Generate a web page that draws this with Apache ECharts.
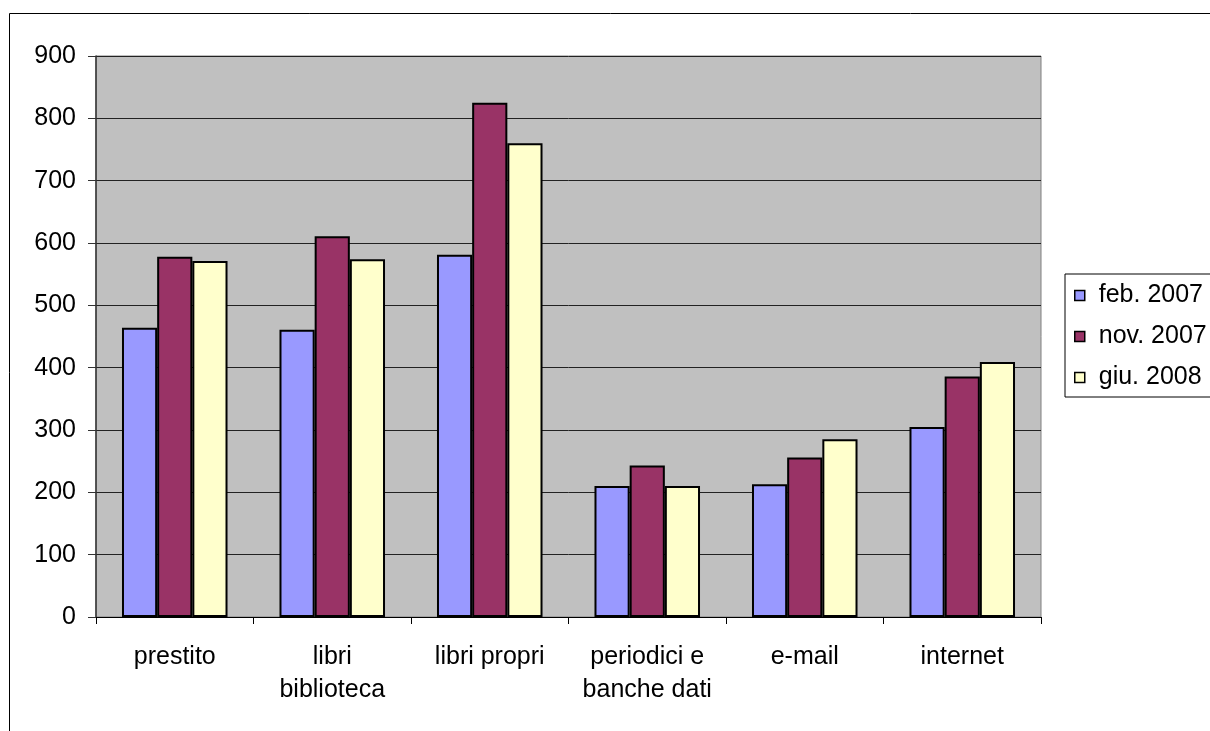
<!DOCTYPE html>
<html>
<head>
    <meta charset="utf-8">
    <title>grafico</title>
    <script src="https://cdn.jsdelivr.net/npm/echarts@6/dist/echarts.min.js"></script>
    <style>
        html, body { margin: 0; padding: 0; background: #ffffff; }
        #chart { width: 1210px; height: 731px; }
    </style>
</head>
<body>
<div id="chart"></div>
<script>
var categorie = ['prestito', 'libri\nbiblioteca', 'libri propri', 'periodici e\nbanche dati', 'e-mail', 'internet'];
var feb2007 = [464, 461, 581, 210, 213, 305];
var nov2007 = [578, 611, 825, 243, 256, 386];
var giu2008 = [571, 574, 760, 210, 285, 409];
var yTicks = [0, 100, 200, 300, 400, 500, 600, 700, 800, 900];

var font = 'Liberation Sans, Arial, sans-serif';
var chart = echarts.init(document.getElementById('chart'));

function serie(nome, dati, colore) {
    return {
        name: nome,
        type: 'bar',
        data: dati,
        barGap: '0%',
        barCategoryGap: '33%',
        itemStyle: { color: colore, borderColor: '#000000', borderWidth: 2 }
    };
}

var option = {
    animation: false,
    textStyle: { fontFamily: font },
    graphic: [{
        type: 'rect',
        shape: { x: 9.5, y: 13.5, width: 1400, height: 900 },
        style: { fill: 'none', stroke: '#000000', lineWidth: 1 },
        silent: true
    }],
    grid: {
        left: 96, right: 169, top: 56, bottom: 114,
        show: true,
        backgroundColor: '#c0c0c0',
        borderColor: '#808080',
        borderWidth: 1
    },
    legend: {
        orient: 'vertical',
        left: 1065, top: 274,
        padding: [9, 40, 7, 9],
        itemGap: 16,
        itemWidth: 10, itemHeight: 10,
        icon: 'rect',
        backgroundColor: '#ffffff',
        borderColor: '#000000',
        borderWidth: 1,
        borderRadius: 0,
        itemStyle: { borderColor: '#000000', borderWidth: 1.5 },
        textStyle: { fontFamily: font, fontSize: 25, color: '#000000', lineHeight: 24, padding: [0, 0, 0, 9] },
        data: ['feb. 2007', 'nov. 2007', 'giu. 2008']
    },
    xAxis: {
        type: 'category',
        data: categorie,
        axisLine: { lineStyle: { color: '#000000', width: 1 } },
        axisTick: { show: true, length: 7, lineStyle: { color: '#000000' } },
        axisLabel: { color: '#000000', fontFamily: font, fontSize: 25, lineHeight: 33, margin: 24, interval: 0 }
    },
    yAxis: {
        type: 'value',
        min: yTicks[0],
        max: yTicks[yTicks.length - 1],
        interval: 100,
        axisLine: { show: true, lineStyle: { color: '#333333', width: 1.5 } },
        axisTick: { show: true, length: 8, lineStyle: { color: '#333333' } },
        axisLabel: { color: '#000000', fontFamily: font, fontSize: 25, margin: 20 },
        splitLine: { lineStyle: { color: '#222222', width: 1 } }
    },
    series: [
        serie('feb. 2007', feb2007, '#9999ff'),
        serie('nov. 2007', nov2007, '#993366'),
        serie('giu. 2008', giu2008, '#ffffcc')
    ]
};
chart.setOption(option);
</script>
</body>
</html>
